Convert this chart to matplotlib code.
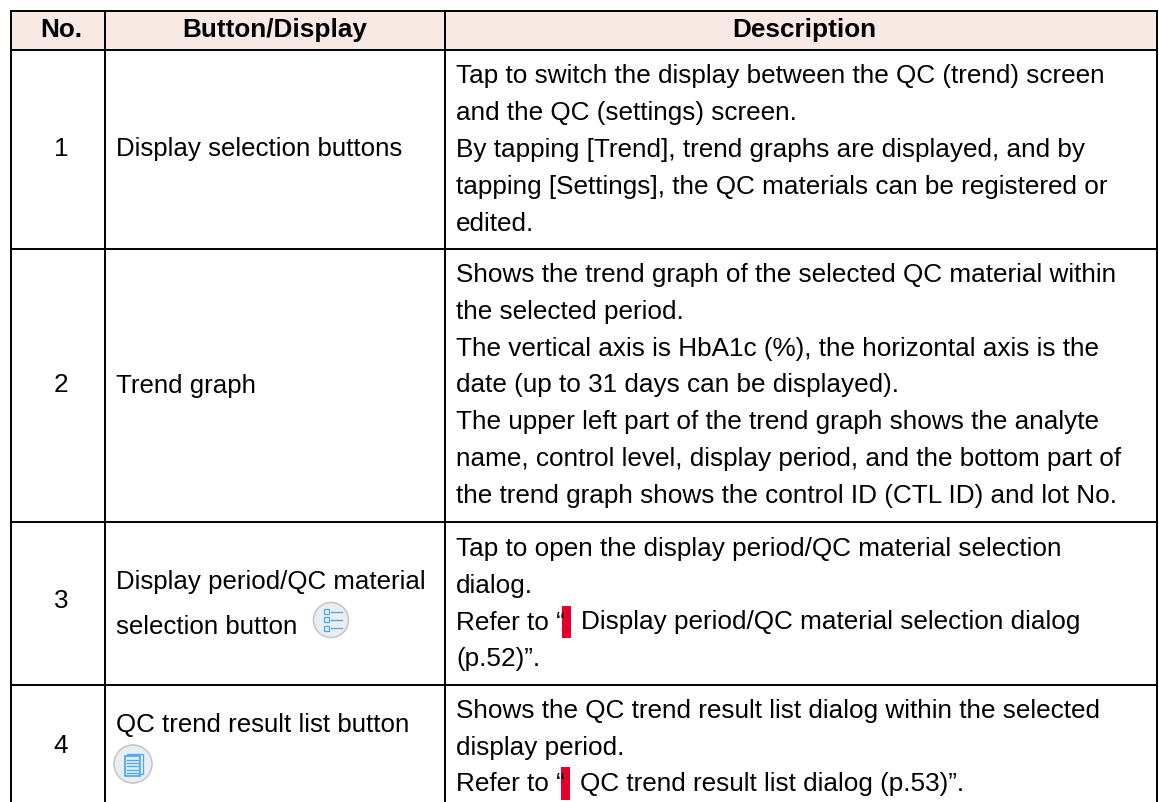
import matplotlib
matplotlib.use('Agg')
import matplotlib.pyplot as plt
from matplotlib.patches import Rectangle, Circle

plt.rcParams['font.family'] = ['Liberation Sans', 'DejaVu Sans']

W = 1159
H = 802

headers = ['No.', 'Button/Display', 'Description']
numbers = ['1', '2', '3', '4']

# text lines of each row, Button/Display column
button_lines = [['Display selection buttons'],
                ['Trend graph'],
                ['Display period/QC material', 'selection button'],
                ['QC trend result list button']]

# text lines of each row, Description column
desc_lines = [['Tap to switch the display between the QC (trend) screen',
               'and the QC (settings) screen.',
               'By tapping [Trend], trend graphs are displayed, and by',
               'tapping [Settings], the QC materials can be registered or',
               'edited.'],
              ['Shows the trend graph of the selected QC material within',
               'the selected period.',
               'The vertical axis is HbA1c (%), the horizontal axis is the',
               'date (up to 31 days can be displayed).',
               'The upper left part of the trend graph shows the analyte',
               'name, control level, display period, and the bottom part of',
               'the trend graph shows the control ID (CTL ID) and lot No.'],
              ['Tap to open the display period/QC material selection',
               'dialog.',
               'Refer to “',
               '(p.52)”.'],
              ['Shows the QC trend result list dialog within the selected',
               'display period.',
               'Refer to “']]

fig = plt.figure(figsize=(W / 100, H / 100), dpi=100)
ax = fig.add_axes([0, 0, 1, 1])
ax.set_xlim(0, W)
ax.set_ylim(H, 0)
ax.axis('off')

col_x = [11, 105, 445, 1157]
row_y = [11, 50, 249, 522, 685, 802]
line_h = 36.8
fs = 18.8

ax.add_patch(Rectangle((col_x[0], row_y[0]), col_x[3] - col_x[0], row_y[1] - row_y[0],
                       fc='#f9e9e5', ec='none', zorder=0))

# grid
for x in col_x:
    ax.plot([x, x], [row_y[0], row_y[-1]], color='black', lw=1.4, zorder=2, solid_capstyle='projecting')
for y in row_y[:-1]:
    ax.plot([col_x[0], col_x[3]], [y, y], color='black', lw=1.4, zorder=2, solid_capstyle='projecting')

# header
header_x = [61.5, 275, 804]
for i in range(3):
    ax.text(header_x[i], 37, headers[i], ha='center', va='baseline',
            fontsize=fs, fontweight='bold', color='black')

# numbers
number_y = [156, 392.5, 608, 753]
for i in range(4):
    ax.text(61, number_y[i], numbers[i], ha='center', va='baseline', fontsize=fs, color='black')

# Button/Display column
button_y = [[156], [392.5], [589, 634], [732]]
for i in range(4):
    for j, line in enumerate(button_lines[i]):
        ax.text(115.5, button_y[i][j], line, ha='left', va='baseline', fontsize=18.6, color='black')

# Description column
desc_y = [83.5, 282, 556, 717.7]
for i in range(4):
    for j, line in enumerate(desc_lines[i]):
        ax.text(456, desc_y[i] + j * line_h, line, ha='left', va='baseline', fontsize=fs, color='black')

# red marks and the text after them
ax.add_patch(Rectangle((561.7, 605.7), 9.6, 32, fc='#e4002b', ec='none'))
ax.text(581, 629, 'Display period/QC material selection dialog', ha='left', va='baseline',
        fontsize=fs, color='black')
ax.add_patch(Rectangle((560.7, 767.3), 9.4, 32.7, fc='#e4002b', ec='none'))
ax.text(580, 791.5, 'QC trend result list dialog (p.53)”.', ha='left', va='baseline',
        fontsize=fs, color='black')


# button icons
def icon(cx, cy, r):
    ax.add_patch(Circle((cx, cy), r, fc='#e8eef2', ec='#c8c8c8', lw=1.2, zorder=3))


icon(331, 620, 17.5)
for k in range(3):
    yy = 611.7 + k * 8.2
    ax.add_patch(Rectangle((323.5, yy - 2.5), 5, 5, fc='none', ec='#4da6f0', lw=0.9, zorder=4))
    ax.plot([331, 342], [yy, yy], color='#4da6f0', lw=0.9, zorder=4)

icon(133, 764, 19)
ax.add_patch(Rectangle((127, 753.5), 15.5, 20, fc='none', ec='#4da6f0', lw=0.9, zorder=4))
ax.add_patch(Rectangle((124.5, 756), 15, 20, fc='#dcecf8', ec='#3f9cf0', lw=1.1, zorder=4))
for k in range(5):
    ax.plot([127, 137.5], [760 + k * 3.2, 760 + k * 3.2], color='#4da6f0', lw=0.9, zorder=5)

fig.savefig('out.png', dpi=100, facecolor='white')
